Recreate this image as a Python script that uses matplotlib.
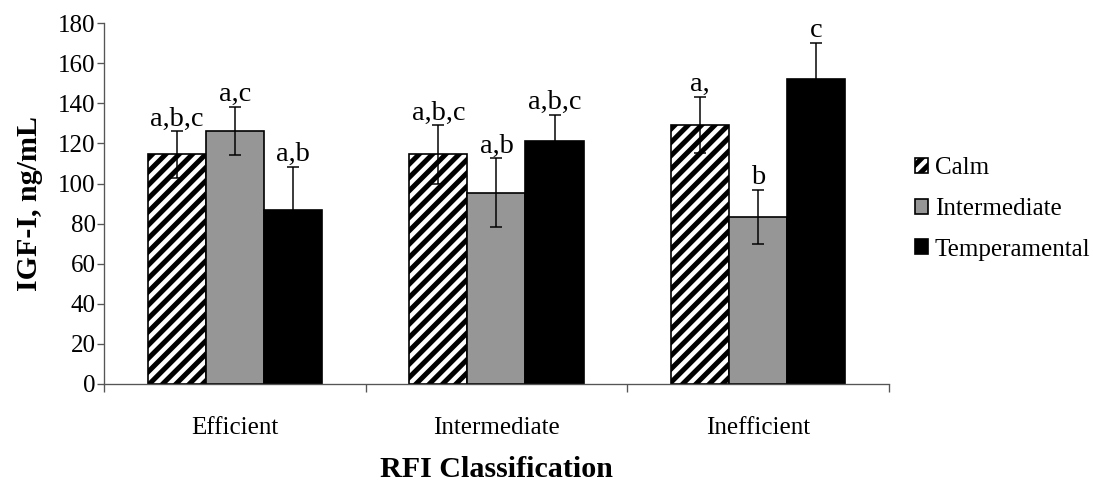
import matplotlib
matplotlib.use("Agg")
import matplotlib.pyplot as plt
import numpy as np

# data
groups = ["Efficient", "Intermediate", "Inefficient"]
series = ["Calm", "Intermediate", "Temperamental"]
calm = [114.5, 114.5, 129.0]
calm_err = [11.5, 14.5, 14.0]
inter = [126.0, 95.5, 83.5]
inter_err = [12.0, 17.0, 13.5]
temp = [87.0, 121.0, 152.0]
temp_err = [21.5, 13.0, 18.0]
calm_txt = ["a,b,c", "a,b,c", "a,"]
inter_txt = ["a,c", "a,b", "b"]
temp_txt = ["a,b", "a,b,c", "c"]

plt.rcParams["font.family"] = ["Liberation Serif", "DejaVu Serif"]
plt.rcParams["hatch.linewidth"] = 3.0

fig = plt.figure(figsize=(1093 / 120, 483 / 120), dpi=120)
ax = fig.add_axes([0.0952, 0.205, 0.718, 0.747])

x = np.arange(len(groups))
w = 0.222
styles = [
    dict(facecolor="white", hatch="///"),
    dict(facecolor="#969696"),
    dict(facecolor="black"),
]
vals = [calm, inter, temp]
errs = [calm_err, inter_err, temp_err]
txts = [calm_txt, inter_txt, temp_txt]

for i in range(3):
    pos = x + (i - 1) * w
    ax.bar(pos, vals[i], w, edgecolor="black", linewidth=1.0,
           label=series[i], zorder=2, **styles[i])
    ax.errorbar(pos, vals[i], yerr=errs[i], fmt="none", ecolor="black",
                elinewidth=0.9, capsize=3.5, capthick=0.9, zorder=3)
    for p, v, e, t in zip(pos, vals[i], errs[i], txts[i]):
        ax.annotate(t, (p, v + e), xytext=(0, 0), textcoords="offset points",
                    ha="center", va="bottom", fontsize=17)

ax.set_xlim(-0.5, 2.5)
ax.set_ylim(0, 180)
ax.set_yticks(np.arange(0, 181, 20))
ax.set_xticks(x)
ax.set_xticklabels(groups)
ax.set_xticks([-0.5, 0.5, 1.5, 2.5], minor=True)
ax.tick_params(axis="x", which="major", length=0, pad=20, labelsize=15)
ax.tick_params(axis="x", which="minor", length=5, width=0.8, color="#555555")
ax.tick_params(axis="y", length=4, width=0.8, color="#555555", labelsize=15, pad=1)

for s in ["top", "right"]:
    ax.spines[s].set_visible(False)
for s in ["left", "bottom"]:
    ax.spines[s].set_color("#555555")
    ax.spines[s].set_linewidth(0.8)

ax.set_ylabel("IGF-I, ng/mL", fontsize=18, fontweight="bold", labelpad=9)
ax.set_xlabel("RFI Classification", fontsize=18, fontweight="bold", labelpad=10)

ax.legend(loc="center left", bbox_to_anchor=(1.017, 0.485), frameon=False,
          fontsize=15, handlelength=0.55, handleheight=0.55, handletextpad=0.25,
          labelspacing=0.75, borderpad=0)

fig.savefig("out.png", dpi=120)
